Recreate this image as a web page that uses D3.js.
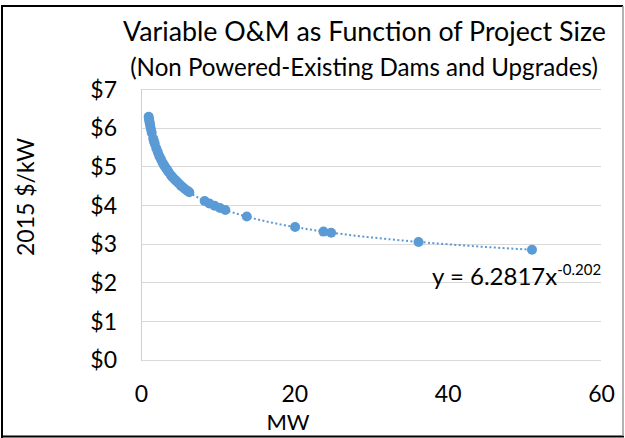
<!DOCTYPE html>
<html>
<head>
<meta charset="utf-8">
<script src="https://cdn.jsdelivr.net/npm/d3@7"></script>
<style>
  html, body { margin: 0; padding: 0; background: #fff; }
  svg { display: block; }
  text { font-family: Lato, "Open Sans", sans-serif; fill: #000; }
</style>
</head>
<body>
<svg id="chart" width="625" height="438"></svg>
<script>
// Project size (MW) and variable O&M (2015 $/kW) for each project
const projectMW = [1.0, 1.05, 1.1, 1.15, 1.2, 1.3, 1.4, 1.6, 1.7, 1.8, 2.0, 2.2, 2.4, 2.6, 2.8,
  3.0, 3.2, 3.4, 3.6, 3.9, 4.1, 4.4, 4.6, 4.9, 5.2, 5.5, 5.8, 6.1, 6.3,
  8.3, 8.9, 9.6, 10.3, 11.0, 13.8, 20.1, 23.8, 24.8, 36.2, 51.0];
const varOM = [6.28, 6.22, 6.16, 6.11, 6.05, 5.96, 5.87, 5.71, 5.64, 5.58, 5.46, 5.36, 5.26, 5.18, 5.10,
  5.03, 4.97, 4.91, 4.85, 4.77, 4.72, 4.66, 4.62, 4.56, 4.50, 4.45, 4.40, 4.36, 4.33,
  4.10, 4.04, 3.98, 3.92, 3.87, 3.70, 3.43, 3.31, 3.28, 3.04, 2.84];

// Power-law trendline y = a * x^b
const trendA = 6.2817;
const trendB = -0.202;

const xTicks = [0, 20, 40, 60];
const yTicks = [0, 1, 2, 3, 4, 5, 6, 7];

const titleText = "Variable O&M as Function of Project Size";
const subtitleText = "(Non Powered-Existing Dams and Upgrades)";
const xTitle = "MW";
const yTitle = "2015 $/kW";

const blue = "#5B9BD5";
const grid = "#D9D9D9";

const svg = d3.select("#chart");
svg.append("rect").attr("width", 625).attr("height", 438).attr("fill", "#fff");

const x = d3.scaleLinear().domain([0, 60]).range([141, 601]);
const y = d3.scaleLinear().domain([0, 7]).range([359.5, 89]);

// horizontal gridlines
svg.append("g").selectAll("line").data(yTicks).join("line")
  .attr("x1", x(0)).attr("x2", x(60))
  .attr("y1", d => Math.round(y(d)) + 0.5).attr("y2", d => Math.round(y(d)) + 0.5)
  .attr("stroke", grid).attr("stroke-width", 1);

// vertical axis line
svg.append("line")
  .attr("x1", Math.round(x(0)) + 0.5).attr("x2", Math.round(x(0)) + 0.5)
  .attr("y1", y(7)).attr("y2", Math.round(y(0)) + 1)
  .attr("stroke", "#CFCFCF").attr("stroke-width", 1);

// y axis tick labels
const yAxis = d3.axisLeft(y).tickValues(yTicks).tickFormat(d => "$" + d).tickSize(0).tickPadding(0);
const gy = svg.append("g").attr("transform", "translate(117,0)").call(yAxis);
gy.select(".domain").remove();
gy.selectAll("text").attr("font-size", 23).attr("dy", "0.36em")
  .style("font-family", "Lato, 'Open Sans', sans-serif").attr("fill", "#000");

// x axis tick labels
const xAxis = d3.axisBottom(x).tickValues(xTicks).tickFormat(d3.format("d")).tickSize(0).tickPadding(0);
const gx = svg.append("g").attr("transform", "translate(0,402)").call(xAxis);
gx.select(".domain").remove();
gx.selectAll("text").attr("font-size", 23).attr("dy", 0)
  .style("font-family", "Lato, 'Open Sans', sans-serif").attr("fill", "#000");

// trendline across the range of the data
const xMin = d3.min(projectMW), xMax = d3.max(projectMW);
const trendPts = d3.range(0, 201).map(i => {
  const xv = xMin * Math.pow(xMax / xMin, i / 200);
  return [xv, trendA * Math.pow(xv, trendB)];
});
svg.append("path")
  .attr("d", d3.line().x(d => x(d[0])).y(d => y(d[1]))(trendPts))
  .attr("fill", "none").attr("stroke", blue).attr("stroke-width", 2)
  .attr("stroke-dasharray", "2,2.4");

// data points
svg.append("g").selectAll("circle").data(projectMW).join("circle")
  .attr("cx", d => x(d)).attr("cy", (d, i) => y(varOM[i]))
  .attr("r", 5).attr("fill", blue);

// fit a text element's font size to a target width
function fitWidth(sel, target) {
  const w = sel.node().getComputedTextLength();
  const fs = parseFloat(sel.attr("font-size"));
  sel.attr("font-size", (fs * target / w).toFixed(2));
}

// titles
const t1 = svg.append("text").attr("x", 364.5).attr("y", 41).attr("text-anchor", "middle")
  .attr("font-size", 28).text(titleText);
fitWidth(t1, 483);
const t2 = svg.append("text").attr("x", 364).attr("y", 76).attr("text-anchor", "middle")
  .attr("font-size", 23).text(subtitleText);
fitWidth(t2, 468);

svg.append("text").attr("x", 288).attr("y", 430).attr("text-anchor", "middle")
  .attr("font-size", 22).text(xTitle);

svg.append("text").attr("transform", "translate(34,197) rotate(-90)")
  .attr("text-anchor", "middle").attr("font-size", 23).text(yTitle);

// trendline equation
const eq = svg.append("text").attr("x", 432).attr("y", 285).attr("font-size", 24);
eq.append("tspan").text("y = " + trendA + "x");
eq.append("tspan").attr("font-size", 15).attr("dy", -10).text(String(trendB));

// chart frame
svg.append("path").attr("d", "M2,438 L2,6 L623,6").attr("fill", "none")
  .attr("stroke", "#000").attr("stroke-width", 2);
svg.append("line").attr("x1", 1).attr("x2", 624).attr("y1", 436.5).attr("y2", 436.5)
  .attr("stroke", "#000").attr("stroke-width", 2);
svg.append("line").attr("x1", 623).attr("x2", 623).attr("y1", 6).attr("y2", 436)
  .attr("stroke", "#9A9A9A").attr("stroke-width", 1.5);
</script>
</body>
</html>
